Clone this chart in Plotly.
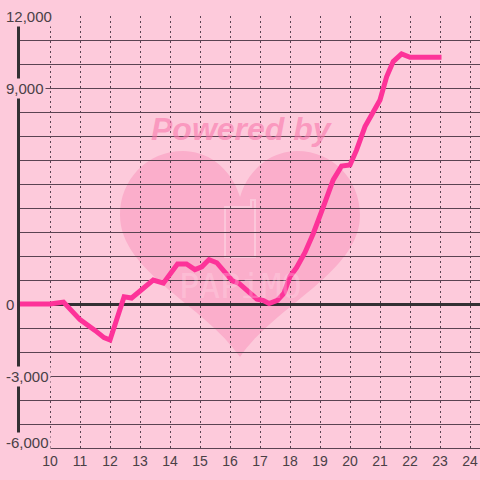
import plotly.graph_objects as go

# ---- data ----
hours = [9.0, 10.0, 10.45, 11.0, 11.5, 11.8, 12.0, 12.33, 12.47, 12.72, 13.06, 13.44,
         13.78, 14.25, 14.55, 14.83, 15.06, 15.3, 15.56, 15.8, 16.08, 16.3, 16.6,
         16.9, 17.1, 17.3, 17.58, 17.8, 18.0, 18.22, 18.5, 18.78, 19.11, 19.44,
         19.72, 20.0, 20.22, 20.5, 21.0, 21.22, 21.44, 21.72, 22.0, 23.05]
values = [0, 0, 80, -650, -1100, -1400, -1500, -300, 300, 250, 620, 1000,
          870, 1670, 1670, 1430, 1550, 1850, 1720, 1330, 960, 860, 500,
          200, 150, 20, 150, 450, 1150, 1520, 2150, 2950, 4050, 5170,
          5750, 5790, 6420, 7390, 8500, 9470, 10100, 10420, 10280, 10280]

x_ticks = list(range(10, 25))
y_label_vals = [12000, 9000, 0, -3000, -6000]
y_label_text = ["12,000", "9,000", "0", "-3,000", "-6,000"]

BG = "#fdcadb"
GRID = "#5a4352"
TXT = "#4a4046"

W, H = 480, 480
L, R, T, B = 20, 0, 16, 32
PW, PH = W - L - R, H - T - B


def px(x, y):
    return (x - L) / PW, (H - B - y) / PH


def path_from(cmds):
    out = []
    for c in cmds:
        op, pts = c[0], c[1:]
        s = op
        for (a, b) in pts:
            u, v = px(a, b)
            s += f" {u:.4f},{v:.4f}"
        out.append(s)
    return " ".join(out) + " Z"


heart = path_from([
    ("M", (240, 197)),
    ("C", (230, 165), (205, 151), (183, 151)),
    ("C", (147, 151), (120, 180), (120, 215)),
    ("C", (120, 272), (205, 305), (240, 357)),
    ("C", (275, 305), (360, 272), (360, 215)),
    ("C", (360, 180), (333, 151), (297, 151)),
    ("C", (275, 151), (250, 165), (240, 197)),
])

phone = path_from([
    ("M", (228, 207)),
    ("L", (251, 207)),
    ("L", (251, 200)),
    ("L", (255, 200)),
    ("L", (255, 257)),
    ("L", (225, 257)),
    ("L", (225, 207)),
])

fig = go.Figure()
fig.add_trace(go.Scatter(
    x=hours, y=values, mode="lines",
    line=dict(color="#fd3399", width=5),
    hoverinfo="skip", showlegend=False,
))

fig.update_layout(
    template="none",
    width=W, height=H,
    margin=dict(l=L, r=R, t=T, b=B, autoexpand=False),
    paper_bgcolor=BG, plot_bgcolor=BG,
    showlegend=False,
    font=dict(family="Liberation Sans, Arial, sans-serif", color=TXT, size=14),
    shapes=[
        dict(type="path", xref="paper", yref="paper", path=heart,
             fillcolor="#fbaecb", line=dict(width=0), layer="below"),
        dict(type="path", xref="paper", yref="paper", path=phone,
             fillcolor="rgba(0,0,0,0)", line=dict(width=2, color="#fcc6da"),
             layer="below"),
    ],
)

fig.update_xaxes(
    range=[9, 24 + 1 / 3], tickvals=x_ticks, ticktext=[str(v) for v in x_ticks],
    showgrid=True, gridcolor=GRID, gridwidth=1, griddash="2px,3px",
    zeroline=False, showline=True, linecolor=GRID, linewidth=1,
    ticks="", tickfont=dict(size=14, color=TXT), fixedrange=True,
    automargin=False,
)
fig.update_yaxes(
    range=[-6000, 12000], dtick=1000, tick0=0,
    showgrid=True, gridcolor=GRID, gridwidth=1,
    zeroline=True, zerolinecolor="#333033", zerolinewidth=3,
    showline=True, linecolor="#333033", linewidth=3,
    showticklabels=False, ticks="", fixedrange=True,
    automargin=False,
)

ymin = min(y_label_vals)
annotations = []
for v, t in zip(y_label_vals, y_label_text):
    annotations.append(dict(
        x=0, xref="paper", xshift=-16, xanchor="left",
        y=v, yref="y", yanchor="middle", yshift=6 if v == ymin else 0,
        text=t, showarrow=False, bgcolor=BG, borderpad=1,
        font=dict(size=15, color=TXT),
    ))
annotations.append(dict(
    x=px(242, 0)[0], xref="paper", y=px(0, 133)[1], yref="paper",
    yanchor="middle", yshift=4,
    text="<b><i>Powered by</i></b>", showarrow=False,
    font=dict(size=32, color="rgba(248,120,172,0.6)",
              family="Liberation Sans, Arial, sans-serif"),
))
annotations.append(dict(
    x=px(240, 0)[0], xref="paper", y=px(0, 286)[1], yref="paper",
    text="PAPiMO", showarrow=False,
    font=dict(size=34, color="rgba(255,225,236,0.3)",
              family="DejaVu Sans Mono, monospace"),
))
fig.update_layout(annotations=annotations)

fig.write_html(
    "out.html",
    config={"displayModeBar": False},
    post_script="document.body.style.margin='0';document.body.style.background='%s';" % BG,
)
